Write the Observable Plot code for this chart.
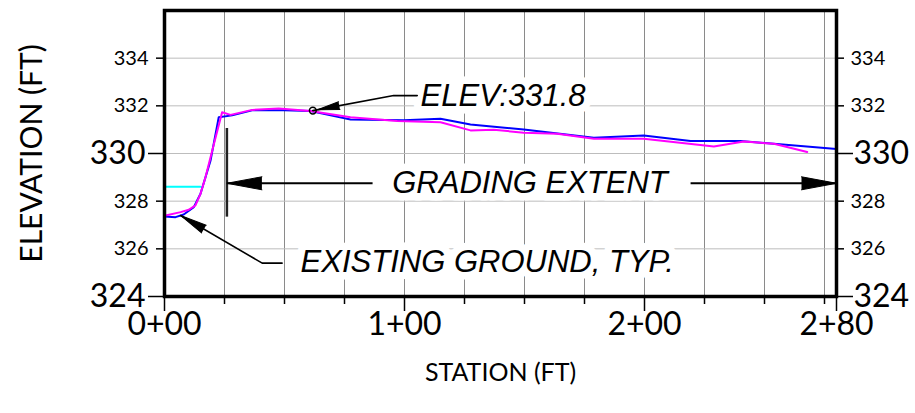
<!DOCTYPE html>
<html>
<head>
<meta charset="utf-8">
<script src="https://cdn.jsdelivr.net/npm/d3@7"></script>
<script src="https://cdn.jsdelivr.net/npm/@observablehq/plot@0.6"></script>
<style>
  html, body { margin: 0; padding: 0; background: #fff; }
</style>
</head>
<body>
<div id="chart"></div>
<script>
// Profile along the station line (feet)
const existingStation = [0, 4.6, 8.0, 12.2, 15.0, 19.2, 22.6, 28.2, 36.5, 49.7, 60.8, 69.2, 77.5, 99.7, 115, 127.5, 149.7, 178.9, 199.7, 219.2, 240, 280];
const existingElev    = [327.36, 327.33, 327.44, 327.75, 328.31, 329.71, 331.52, 331.60, 331.81, 331.81, 331.78, 331.60, 331.43, 331.39, 331.46, 331.22, 331.01, 330.66, 330.76, 330.52, 330.52, 330.19];

const gradeStation = [0, 6.7, 10.1, 12.9, 15.0, 17.1, 19.9, 24.0, 27.5, 36.5, 47.6, 60.8, 77.5, 97.0, 115, 127.5, 137.2, 149.7, 163.6, 178.9, 199.7, 228.9, 241.4, 253.9, 267.8];
const gradeElev    = [327.39, 327.54, 327.64, 327.82, 328.31, 329.01, 330.13, 331.73, 331.62, 331.83, 331.89, 331.78, 331.52, 331.36, 331.31, 330.97, 331.00, 330.87, 330.83, 330.62, 330.62, 330.29, 330.50, 330.41, 330.06];

// Short reference line at the start of the profile
const refStation = [0, 15];
const refElev = [328.6, 328.6];

// Axis ticks
const xDomain = [0, 280];
const yDomain = [324, 336];
const xTicksMajor = [0, 100, 200, 280];
const xTicksMinor = [25, 50, 75, 125, 150, 175, 225, 250, 275];
const xGrid = [25, 50, 75, 100, 125, 150, 175, 200, 225, 250, 275];
const yTicksSmall = [326, 328, 332, 334];
const yTicksLarge = [324, 330];
const yGrid = [326, 328, 330, 332, 334];

// Callouts
const calloutStation = 61.8;
const calloutElev = 331.8;
const calloutLeader = [[61.8, 331.8], [95.5, 332.43], [105.3, 332.43]];
const calloutText = { station: 106.7, elev: 332.43 };

const gradeStart = 26;
const gradeEnd = 280;
const gradeArrowElev = 328.75;
const gradeLimitElev = [327.33, 331.05];
const gradeShaftLeftEnd = 86.7;
const gradeShaftRightStart = 219.2;
const gradeText = { station: 152.3, elev: 328.75 };

const groundLeader = [[6.7, 327.40], [40.7, 325.4], [49.0, 325.4]];
const groundText = { station: 56.7, elev: 325.43 };

const fmtStation = d => `${Math.floor(d / 100)}+${String(Math.round(d % 100)).padStart(2, "0")}`;

const width = 915, height = 413;
const marginLeft = 164, marginRight = 79, marginTop = 10, marginBottom = 117;
const xRange = [marginLeft, width - marginRight];
const yRange = [height - marginBottom, marginTop];

// Standalone scales, identical to the plot's, used to orient the leader arrowheads
const sx = Plot.scale({x: {domain: xDomain, range: xRange}});
const sy = Plot.scale({y: {domain: yDomain, range: yRange}});
const headAngle = (tail, tip) => {
  const dx = sx.apply(tip[0]) - sx.apply(tail[0]);
  const dy = sy.apply(tip[1]) - sy.apply(tail[1]);
  return Math.atan2(dx, -dy) * 180 / Math.PI;
};

const existing = existingStation.map((s, i) => ({station: s, elev: existingElev[i]}));
const grade = gradeStation.map((s, i) => ({station: s, elev: gradeElev[i]}));
const ref = refStation.map((s, i) => ({station: s, elev: refElev[i]}));
const toPts = arr => arr.map(([station, elev]) => ({station, elev}));

// Filled arrowhead whose tip sits at (station, elev), optionally pulled back along its axis
function arrowHead(station, elev, rotate, length, r, pullBack = 0) {
  const a = rotate * Math.PI / 180;
  return Plot.vector([{station, elev}], {
    x: "station", y: "elev", rotate, length, r, shape: "spike", anchor: "end",
    dx: -Math.sin(a) * pullBack, dy: Math.cos(a) * pullBack,
    fill: "black", stroke: "black", strokeWidth: 1
  });
}

const noteStyle = {
  fontFamily: "Liberation Sans, Arial, sans-serif",
  fontStyle: "italic",
  fontSize: 31,
  fill: "black",
  stroke: "white",
  strokeWidth: 15,
  strokeLinejoin: "round"
};

const axisFont = "Lato, sans-serif";
const dotR = 3.4;

const chart = Plot.plot({
  width, height,
  marginLeft, marginRight, marginTop, marginBottom,
  style: {fontFamily: axisFont, background: "white", color: "black"},
  x: {domain: xDomain, range: xRange},
  y: {domain: yDomain, range: yRange},
  marks: [
    Plot.gridX(xGrid, {stroke: "#8a8a8a", strokeOpacity: 1, strokeWidth: 1}),
    Plot.gridY(yGrid, {stroke: "#bdbdbd", strokeOpacity: 1, strokeWidth: 1}),

    // Notes with white backing over the grid
    Plot.text([`ELEV:${calloutElev}`], {x: calloutText.station, y: calloutText.elev, textAnchor: "start", ...noteStyle}),
    Plot.text(["GRADING EXTENT"], {x: gradeText.station, y: gradeText.elev, textAnchor: "middle", ...noteStyle}),
    Plot.text(["EXISTING GROUND, TYP."], {x: groundText.station, y: groundText.elev, textAnchor: "start", ...noteStyle}),

    // Profiles
    Plot.line(ref, {x: "station", y: "elev", stroke: "#00ffff", strokeWidth: 2}),
    Plot.line(existing, {x: "station", y: "elev", stroke: "#0000ff", strokeWidth: 2}),
    Plot.line(grade, {x: "station", y: "elev", stroke: "#ff00ff", strokeWidth: 2}),

    // Grading extent: limit bar and dimension arrows
    Plot.ruleX([gradeStart], {y1: gradeLimitElev[0], y2: gradeLimitElev[1], stroke: "#222", strokeWidth: 2.5}),
    Plot.link([{a: gradeStart, b: gradeShaftLeftEnd}, {a: gradeShaftRightStart, b: gradeEnd}],
      {x1: "a", x2: "b", y1: gradeArrowElev, y2: gradeArrowElev, stroke: "black", strokeWidth: 2}),
    arrowHead(gradeStart, gradeArrowElev, -90, 35, 6.5),
    arrowHead(gradeEnd, gradeArrowElev, 90, 35, 6.5),

    // Leaders
    Plot.line(toPts(calloutLeader), {x: "station", y: "elev", stroke: "black", strokeWidth: 1.6}),
    Plot.line(toPts(groundLeader), {x: "station", y: "elev", stroke: "black", strokeWidth: 1.6}),
    arrowHead(calloutLeader[0][0], calloutLeader[0][1], headAngle(calloutLeader[1], calloutLeader[0]), 22, 4, dotR + 1.5),
    arrowHead(groundLeader[0][0], groundLeader[0][1], headAngle(groundLeader[1], groundLeader[0]), 27, 4.5),
    Plot.dot([{station: calloutStation, elev: calloutElev}], {x: "station", y: "elev", r: dotR, stroke: "black", strokeWidth: 1.5, fill: "none"}),

    // Axes
    Plot.axisX(xTicksMajor, {anchor: "bottom", tickSize: 15, tickPadding: 1, tickFormat: fmtStation, fontSize: 32, strokeWidth: 1.5, label: null}),
    Plot.axisX(xTicksMinor, {anchor: "bottom", tickSize: 8, text: null, strokeWidth: 1.5, label: null}),
    Plot.axisY(yTicksSmall, {anchor: "left", tickSize: 8, tickPadding: 8, fontSize: 20, strokeWidth: 1.5, label: null}),
    Plot.axisY(yTicksLarge, {anchor: "left", tickSize: 16, tickPadding: 3, fontSize: 32, strokeWidth: 1.5, label: null}),
    Plot.axisY(yTicksSmall, {anchor: "right", tickSize: 7, tickPadding: 7, fontSize: 20, strokeWidth: 1.5, label: null}),
    Plot.axisY(yTicksLarge, {anchor: "right", tickSize: 16, tickPadding: 1, fontSize: 32, strokeWidth: 1.5, label: null}),

    // Axis titles
    Plot.text(["ELEVATION (FT)"], {frameAnchor: "left", textAnchor: "middle", rotate: -90, dx: -132, fontSize: 30, fontFamily: axisFont, fill: "black"}),
    Plot.text(["STATION (FT)"], {frameAnchor: "bottom", textAnchor: "middle", dy: 84, fontSize: 25, fontFamily: axisFont, fill: "black"}),

    Plot.frame({stroke: "black", strokeWidth: 3.5})
  ]
});

document.getElementById("chart").append(chart);
</script>
</body>
</html>
